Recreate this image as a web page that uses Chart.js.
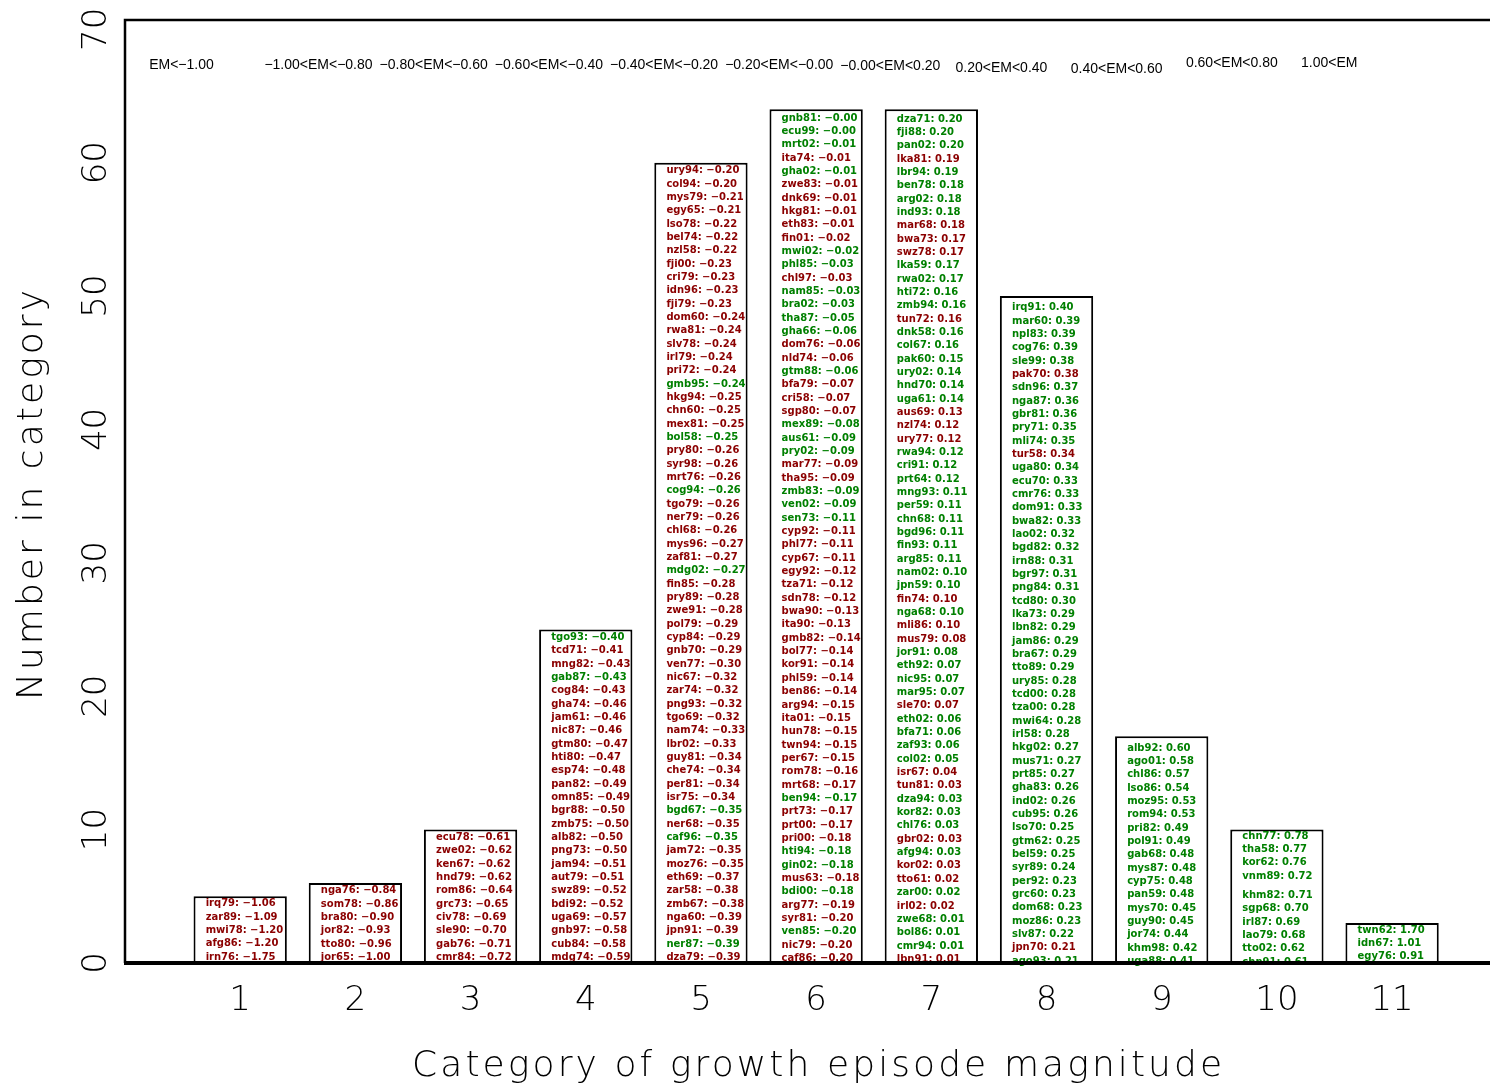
<!DOCTYPE html>
<html>
<head>
<meta charset="utf-8">
<title>Growth episode magnitude</title>
<script src="https://cdn.jsdelivr.net/npm/chart.js@4.4.1/dist/chart.umd.min.js"></script>
<style>
  html, body { margin: 0; padding: 0; background: #fff; }
  #wrap { width: 1490px; height: 1088px; }
</style>
</head>
<body>
<div id="wrap"><canvas id="chart" width="1490" height="1088"></canvas></div>
<script>
// ---- categories, counts and axis ticks ----
const categories = [1, 2, 3, 4, 5, 6, 7, 8, 9, 10, 11];
const counts = [5, 6, 10, 25, 60, 64, 64, 50, 17, 10, 3];
const yTicks = [0, 10, 20, 30, 40, 50, 60, 70];
const rangeLabels = [
  'EM<\u22121.00', '\u22121.00<EM<\u22120.80', '\u22120.80<EM<\u22120.60', '\u22120.60<EM<\u22120.40',
  '\u22120.40<EM<\u22120.20', '\u22120.20<EM<\u22120.00', '\u22120.00<EM<0.20', '0.20<EM<0.40',
  '0.40<EM<0.60', '0.60<EM<0.80', '1.00<EM'
];

// ---- episodes in each category, listed from the top of the bar down ----
// kind: r = red entry, g = green entry
const cat1Names = ['irq79', 'zar89', 'mwi78', 'afg86', 'irn76'];
const cat1Values = [-1.06, -1.09, -1.20, -1.20, -1.75];
const cat1Kind = 'rrrrr';

const cat2Names = ['nga76', 'som78', 'bra80', 'jor82', 'tto80', 'jor65'];
const cat2Values = [-0.84, -0.86, -0.90, -0.93, -0.96, -1.00];
const cat2Kind = 'rrrrrr';

const cat3Names = ['ecu78', 'zwe02', 'ken67', 'hnd79', 'rom86', 'grc73', 'civ78', 'sle90', 'gab76', 'cmr84'];
const cat3Values = [-0.61, -0.62, -0.62, -0.62, -0.64, -0.65, -0.69, -0.70, -0.71, -0.72];
const cat3Kind = 'rrrrrrrrrr';

const cat4Names = ['tgo93', 'tcd71', 'mng82', 'gab87', 'cog84', 'gha74', 'jam61', 'nic87', 'gtm80', 'hti80',
  'esp74', 'pan82', 'omn85', 'bgr88', 'zmb75', 'alb82', 'png73', 'jam94', 'aut79', 'swz89',
  'bdi92', 'uga69', 'gnb97', 'cub84', 'mdg74'];
const cat4Values = [-0.40, -0.41, -0.43, -0.43, -0.43, -0.46, -0.46, -0.46, -0.47, -0.47,
  -0.48, -0.49, -0.49, -0.50, -0.50, -0.50, -0.50, -0.51, -0.51, -0.52,
  -0.52, -0.57, -0.58, -0.58, -0.59];
const cat4Kind = 'grrgrrrrrrrrrrrrrrrrrrrrr';

const cat5Names = ['ury94', 'col94', 'mys79', 'egy65', 'lso78', 'bel74', 'nzl58', 'fji00', 'cri79', 'idn96',
  'fji79', 'dom60', 'rwa81', 'slv78', 'irl79', 'pri72', 'gmb95', 'hkg94', 'chn60', 'mex81',
  'bol58', 'pry80', 'syr98', 'mrt76', 'cog94', 'tgo79', 'ner79', 'chl68', 'mys96', 'zaf81',
  'mdg02', 'fin85', 'pry89', 'zwe91', 'pol79', 'cyp84', 'gnb70', 'ven77', 'nic67', 'zar74',
  'png93', 'tgo69', 'nam74', 'lbr02', 'guy81', 'che74', 'per81', 'isr75', 'bgd67', 'ner68',
  'caf96', 'jam72', 'moz76', 'eth69', 'zar58', 'zmb67', 'nga60', 'jpn91', 'ner87', 'dza79'];
const cat5Values = [-0.20, -0.20, -0.21, -0.21, -0.22, -0.22, -0.22, -0.23, -0.23, -0.23,
  -0.23, -0.24, -0.24, -0.24, -0.24, -0.24, -0.24, -0.25, -0.25, -0.25,
  -0.25, -0.26, -0.26, -0.26, -0.26, -0.26, -0.26, -0.26, -0.27, -0.27,
  -0.27, -0.28, -0.28, -0.28, -0.29, -0.29, -0.29, -0.30, -0.32, -0.32,
  -0.32, -0.32, -0.33, -0.33, -0.34, -0.34, -0.34, -0.34, -0.35, -0.35,
  -0.35, -0.35, -0.35, -0.37, -0.38, -0.38, -0.39, -0.39, -0.39, -0.39];
const cat5Kind = 'rrrrrrrrrr' + 'rrrrrrgrrr' + 'grrrgrrrrr' + 'grrrrrrrrr' + 'rrrrrrrrgr' + 'grrrrrrrgr';

const cat6Names = ['gnb81', 'ecu99', 'mrt02', 'ita74', 'gha02', 'zwe83', 'dnk69', 'hkg81', 'eth83', 'fin01',
  'mwi02', 'phl85', 'chl97', 'nam85', 'bra02', 'tha87', 'gha66', 'dom76', 'nld74', 'gtm88',
  'bfa79', 'cri58', 'sgp80', 'mex89', 'aus61', 'pry02', 'mar77', 'tha95', 'zmb83', 'ven02',
  'sen73', 'cyp92', 'phl77', 'cyp67', 'egy92', 'tza71', 'sdn78', 'bwa90', 'ita90', 'gmb82',
  'bol77', 'kor91', 'phl59', 'ben86', 'arg94', 'ita01', 'hun78', 'twn94', 'per67', 'rom78',
  'mrt68', 'ben94', 'prt73', 'prt00', 'pri00', 'hti94', 'gin02', 'mus63', 'bdi00', 'arg77',
  'syr81', 'ven85', 'nic79', 'caf86'];
const cat6Values = [-0.00, -0.00, -0.01, -0.01, -0.01, -0.01, -0.01, -0.01, -0.01, -0.02,
  -0.02, -0.03, -0.03, -0.03, -0.03, -0.05, -0.06, -0.06, -0.06, -0.06,
  -0.07, -0.07, -0.07, -0.08, -0.09, -0.09, -0.09, -0.09, -0.09, -0.09,
  -0.11, -0.11, -0.11, -0.11, -0.12, -0.12, -0.12, -0.13, -0.13, -0.14,
  -0.14, -0.14, -0.14, -0.14, -0.15, -0.15, -0.15, -0.15, -0.15, -0.16,
  -0.17, -0.17, -0.17, -0.17, -0.18, -0.18, -0.18, -0.18, -0.18, -0.19,
  -0.20, -0.20, -0.20, -0.20];
const cat6Kind = 'gggrgrrrrr' + 'ggrggggrrg' + 'rrrgggrrgg' + 'grrrrrrrrr' + 'rrrrrrrrrr' + 'rgrrrggrgr' + 'rgrr';

const cat7Names = ['dza71', 'fji88', 'pan02', 'lka81', 'lbr94', 'ben78', 'arg02', 'ind93', 'mar68', 'bwa73',
  'swz78', 'lka59', 'rwa02', 'hti72', 'zmb94', 'tun72', 'dnk58', 'col67', 'pak60', 'ury02',
  'hnd70', 'uga61', 'aus69', 'nzl74', 'ury77', 'rwa94', 'cri91', 'prt64', 'mng93', 'per59',
  'chn68', 'bgd96', 'fin93', 'arg85', 'nam02', 'jpn59', 'fin74', 'nga68', 'mli86', 'mus79',
  'jor91', 'eth92', 'nic95', 'mar95', 'sle70', 'eth02', 'bfa71', 'zaf93', 'col02', 'isr67',
  'tun81', 'dza94', 'kor82', 'chl76', 'gbr02', 'afg94', 'kor02', 'tto61', 'zar00', 'irl02',
  'zwe68', 'bol86', 'cmr94', 'lbn91'];
const cat7Values = [0.20, 0.20, 0.20, 0.19, 0.19, 0.18, 0.18, 0.18, 0.18, 0.17,
  0.17, 0.17, 0.17, 0.16, 0.16, 0.16, 0.16, 0.16, 0.15, 0.14,
  0.14, 0.14, 0.13, 0.12, 0.12, 0.12, 0.12, 0.12, 0.11, 0.11,
  0.11, 0.11, 0.11, 0.11, 0.10, 0.10, 0.10, 0.10, 0.10, 0.08,
  0.08, 0.07, 0.07, 0.07, 0.07, 0.06, 0.06, 0.06, 0.05, 0.04,
  0.03, 0.03, 0.03, 0.03, 0.03, 0.03, 0.03, 0.02, 0.02, 0.02,
  0.01, 0.01, 0.01, 0.01];
const cat7Kind = 'gggrggggrr' + 'rggggrgggg' + 'ggrrrggggg' + 'ggggggrgrr' + 'ggggrggggr' + 'rgggrgrrgr' + 'gggr';

const cat8Names = ['irq91', 'mar60', 'npl83', 'cog76', 'sle99', 'pak70', 'sdn96', 'nga87', 'gbr81', 'pry71',
  'mli74', 'tur58', 'uga80', 'ecu70', 'cmr76', 'dom91', 'bwa82', 'lao02', 'bgd82', 'irn88',
  'bgr97', 'png84', 'tcd80', 'lka73', 'lbn82', 'jam86', 'bra67', 'tto89', 'ury85', 'tcd00',
  'tza00', 'mwi64', 'irl58', 'hkg02', 'mus71', 'prt85', 'gha83', 'ind02', 'cub95', 'lso70',
  'gtm62', 'bel59', 'syr89', 'per92', 'grc60', 'dom68', 'moz86', 'slv87', 'jpn70', 'ago93'];
const cat8Values = [0.40, 0.39, 0.39, 0.39, 0.38, 0.38, 0.37, 0.36, 0.36, 0.35,
  0.35, 0.34, 0.34, 0.33, 0.33, 0.33, 0.33, 0.32, 0.32, 0.31,
  0.31, 0.31, 0.30, 0.29, 0.29, 0.29, 0.29, 0.29, 0.28, 0.28,
  0.28, 0.28, 0.28, 0.27, 0.27, 0.27, 0.26, 0.26, 0.26, 0.25,
  0.25, 0.25, 0.24, 0.23, 0.23, 0.23, 0.23, 0.22, 0.21, 0.21];
const cat8Kind = 'gggggrgggg' + 'grgggggggg' + 'gggggggggg' + 'gggggggggg' + 'ggggggggrg';

const cat9Names = ['alb92', 'ago01', 'chl86', 'lso86', 'moz95', 'rom94', 'pri82', 'pol91', 'gab68', 'mys87',
  'cyp75', 'pan59', 'mys70', 'guy90', 'jor74', 'khm98', 'uga88'];
const cat9Values = [0.60, 0.58, 0.57, 0.54, 0.53, 0.53, 0.49, 0.49, 0.48, 0.48,
  0.48, 0.48, 0.45, 0.45, 0.44, 0.42, 0.41];
const cat9Kind = 'ggggggggggggggggg';

const cat10Names = ['chn77', 'tha58', 'kor62', 'vnm89', 'khm82', 'sgp68', 'irl87', 'lao79', 'tto02', 'chn91'];
const cat10Values = [0.78, 0.77, 0.76, 0.72, 0.71, 0.70, 0.69, 0.68, 0.62, 0.61];
const cat10Kind = 'gggggggggg';

const cat11Names = ['twn62', 'idn67', 'egy76'];
const cat11Values = [1.70, 1.01, 0.91];
const cat11Kind = 'ggg';

const groups = [
  [cat1Names, cat1Values, cat1Kind], [cat2Names, cat2Values, cat2Kind], [cat3Names, cat3Values, cat3Kind],
  [cat4Names, cat4Values, cat4Kind], [cat5Names, cat5Values, cat5Kind], [cat6Names, cat6Values, cat6Kind],
  [cat7Names, cat7Values, cat7Kind], [cat8Names, cat8Values, cat8Kind], [cat9Names, cat9Values, cat9Kind],
  [cat10Names, cat10Values, cat10Kind], [cat11Names, cat11Values, cat11Kind]
];

// ---- drawing style ----
const KIND_COLOR = { r: '#8b0000', g: '#008000' };
const THIN_FONT = '"DejaVu Sans", "Noto Sans", sans-serif';
const ROW_BASE = [0.45, 0.42, 0.41, 0.41, 0.41, 0.35, 0.28, 0.14, 0.12, 0.07, 0.47]; // centre of lowest row, in bar units
const HEADER_DY = [0, 0, 0, 0, 0, 0, 1, 3, 4, -2, -2];

function fmt(v) {
  const neg = v < 0 || Object.is(v, -0);
  return (neg ? '\u2212' : '') + Math.abs(v).toFixed(2);
}

function drawSpaced(ctx, text, x, y, width) {
  // spread the glyphs so the string spans the given width
  ctx.letterSpacing = '0px';
  const natural = ctx.measureText(text).width;
  const sp = (width - natural) / (text.length - 1);
  ctx.letterSpacing = sp.toFixed(2) + 'px';
  ctx.textAlign = 'left';
  ctx.fillText(text, x - width / 2, y);
  ctx.letterSpacing = '0px';
}

const overlay = {
  id: 'overlay',
  afterDatasetsDraw(chart) {
    const { ctx, chartArea: area, scales: { x, y } } = chart;
    ctx.save();

    // episode labels stacked inside each bar
    ctx.font = 'bold 10px "DejaVu Sans", sans-serif';
    ctx.textAlign = 'left';
    ctx.textBaseline = 'middle';
    groups.forEach(([names, values, kind], ci) => {
      const n = names.length;
      const px = x.getPixelForValue(categories[ci] - 0.3);
      names.forEach((name, i) => {
        const k = n - 1 - i;
        let row = ROW_BASE[ci] + k;
        if (ci === 9 && k >= 6) row += 0.45;
        ctx.fillStyle = KIND_COLOR[kind[i]];
        ctx.fillText(name + ': ' + fmt(values[i]), px, y.getPixelForValue(row));
      });
    });

    // class ranges along the top
    ctx.font = '14px "Liberation Sans", Arial, sans-serif';
    ctx.fillStyle = '#000';
    ctx.textBaseline = 'middle';
    rangeLabels.forEach((t, i) => {
      ctx.fillText(t, x.getPixelForValue(categories[i] - 0.79), area.top + 45 + HEADER_DY[i]);
    });

    // frame: left axis, top edge, heavy baseline
    ctx.strokeStyle = '#000';
    ctx.lineCap = 'butt';
    ctx.lineWidth = 2.5;
    ctx.beginPath();
    ctx.moveTo(area.left, area.bottom);
    ctx.lineTo(area.left, area.top);
    ctx.lineTo(area.right, area.top);
    ctx.stroke();
    ctx.lineWidth = 4;
    ctx.beginPath();
    ctx.moveTo(area.left - 1, y.getPixelForValue(0));
    ctx.lineTo(area.right, y.getPixelForValue(0));
    ctx.stroke();

    // y tick labels, turned to read upwards
    ctx.font = '200 34px ' + THIN_FONT;
    ctx.fillStyle = '#000';
    ctx.textAlign = 'center';
    ctx.textBaseline = 'middle';
    y.ticks.forEach(t => {
      ctx.save();
      ctx.translate(97, y.getPixelForValue(t.value));
      ctx.rotate(-Math.PI / 2);
      ctx.fillText(String(t.value), 0, 0);
      ctx.restore();
    });

    // axis titles
    ctx.font = '200 36px ' + THIN_FONT;
    ctx.textBaseline = 'middle';
    drawSpaced(ctx, 'Category of growth episode magnitude', 817, 1067, 810);
    ctx.save();
    ctx.translate(33, 495);
    ctx.rotate(-Math.PI / 2);
    drawSpaced(ctx, 'Number in category', 0, 0, 410);
    ctx.restore();

    ctx.restore();
  }
};

new Chart(document.getElementById('chart'), {
  type: 'bar',
  data: {
    datasets: [{
      data: categories.map((c, i) => ({ x: c, y: counts[i] })),
      backgroundColor: '#ffffff',
      borderColor: '#000000',
      borderWidth: 2,
      barPercentage: 1.0,
      categoryPercentage: 0.81
    }]
  },
  options: {
    responsive: false,
    animation: false,
    devicePixelRatio: 1,
    layout: { padding: { top: 20, left: 0, right: 0, bottom: 0 } },
    plugins: { legend: { display: false }, tooltip: { enabled: false } },
    scales: {
      x: {
        type: 'linear',
        min: 0,
        max: 11.85,
        offset: false,
        grid: { display: false, drawTicks: false },
        border: { display: false },
        afterBuildTicks: s => { s.ticks = categories.map(v => ({ value: v })); },
        ticks: {
          autoSkip: false,
          maxRotation: 0,
          padding: 18,
          color: '#000',
          font: { family: THIN_FONT, size: 34, weight: '200' },
          callback: v => String(v)
        },
        afterFit: s => { s.height = 125; }
      },
      y: {
        type: 'linear',
        min: 0,
        max: 70.7,
        grid: { display: false, drawTicks: false },
        border: { display: false },
        ticks: { display: false },
        afterBuildTicks: s => { s.ticks = yTicks.map(v => ({ value: v })); },
        afterFit: s => { s.width = 125; }
      }
    }
  },
  plugins: [overlay]
});
</script>
</body>
</html>
